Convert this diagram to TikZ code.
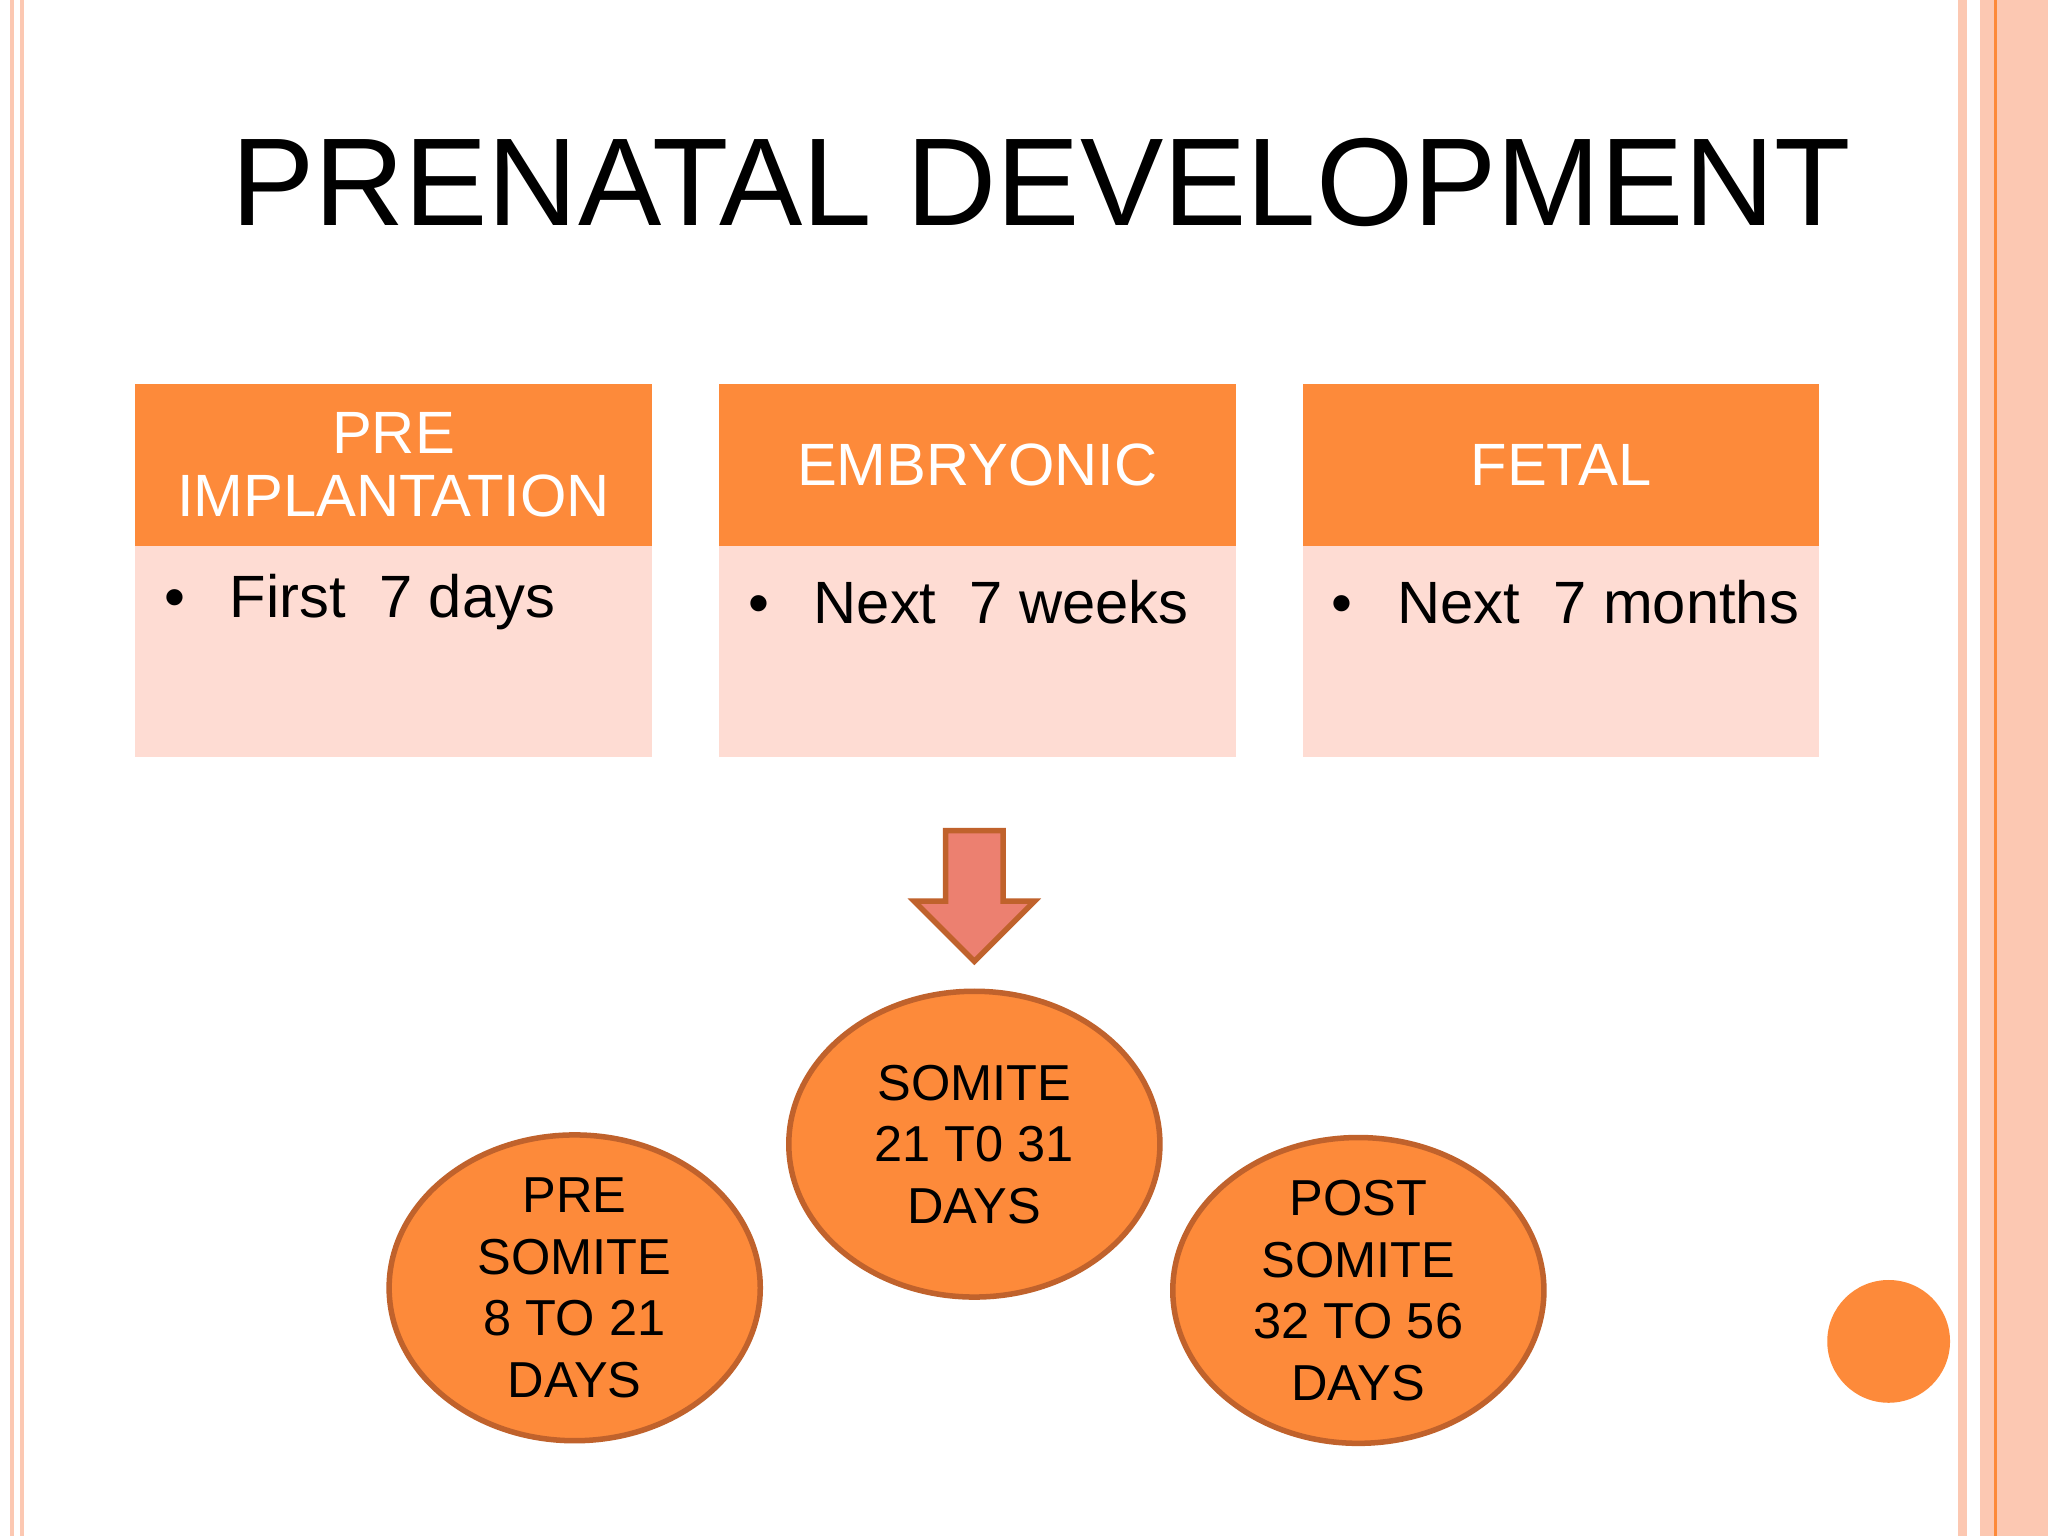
\documentclass[tikz,border=0pt]{standalone}
\usepackage{fontspec}
\setmainfont{Liberation Sans}
\usetikzlibrary{shapes.geometric}
\definecolor{org}{HTML}{FD8A3A}
\definecolor{pk}{HTML}{FEDCD3}
\definecolor{peach}{HTML}{FCC8B2}
\definecolor{edge}{HTML}{C0622C}
\definecolor{arr}{HTML}{EC8070}
\begin{document}
\begin{tikzpicture}[x=0.01cm,y=-0.01cm,
  hdr/.style={fill=org,minimum width=3.95cm,minimum height=1.24cm,text=white,font=\fontsize{13}{13.8}\selectfont,align=center,anchor=north west,inner sep=0pt},
  bdy/.style={fill=pk,minimum width=3.95cm,minimum height=1.62cm,anchor=north west,inner sep=0pt},
  btxt/.style={font=\fontsize{13}{15}\selectfont,anchor=west,inner sep=0pt},
  ov/.style={ellipse,fill=org,draw=edge,line width=1.2pt,minimum width=2.84cm,minimum height=2.34cm,inner sep=0pt},
  ovt/.style={align=center,font=\fontsize{11}{13.4}\selectfont,inner sep=0pt}]
\fill[white] (0,0) rectangle (1568,1176);
\useasboundingbox (0,0) rectangle (1568,1176);
\fill[peach] (8,0) rectangle (11,1176);
\fill[peach] (15,0) rectangle (18,1176);
\fill[peach] (1499,0) rectangle (1506,1176);
\fill[peach] (1516,0) rectangle (1568,1176);
\fill[org] (1527,0) rectangle (1529,1176);
\node[font=\fontsize{27.2}{30}\selectfont] (title) at (797,140) {PRENATAL DEVELOPMENT};
\node[hdr] (h1) at (103,293) {PRE\\IMPLANTATION};
\node[hdr] (h2) at (550,293) {EMBRYONIC};
\node[hdr] (h3) at (997,293) {FETAL};
\node[bdy] (b1) at (103,417) {};
\node[bdy] (b2) at (550,417) {};
\node[bdy] (b3) at (997,417) {};
\node[btxt] (t1) at (125,461) {•\hspace{0.75em}First\ \ 7 days};
\node[btxt] (t2) at (572,461) {•\hspace{0.75em}Next\ \ 7 weeks};
\node[btxt] (t3) at (1019,461) {•\hspace{0.75em}Next\ \ 7 months};
\draw[fill=arr,draw=edge,line width=1.2pt] (724,636) -- (768,636) -- (768,690) -- (792,690) -- (746,736) -- (700,690) -- (724,690) -- cycle;
\node[ov] (e2) at (746,876) {};
\node[ovt] (l2) at (e2) {SOMITE\\21 T0 31\\DAYS};
\node[ov] (e1) at (440,986) {};
\node[ovt] (l1) at (e1) {PRE\\SOMITE\\8 TO 21\\DAYS};
\node[ov] (e3) at (1040,988) {};
\node[ovt] (l3) at (e3) {POST\\SOMITE\\32 TO 56\\DAYS};
\fill[org] (1446,1027) circle (47);
\end{tikzpicture}
\end{document}
